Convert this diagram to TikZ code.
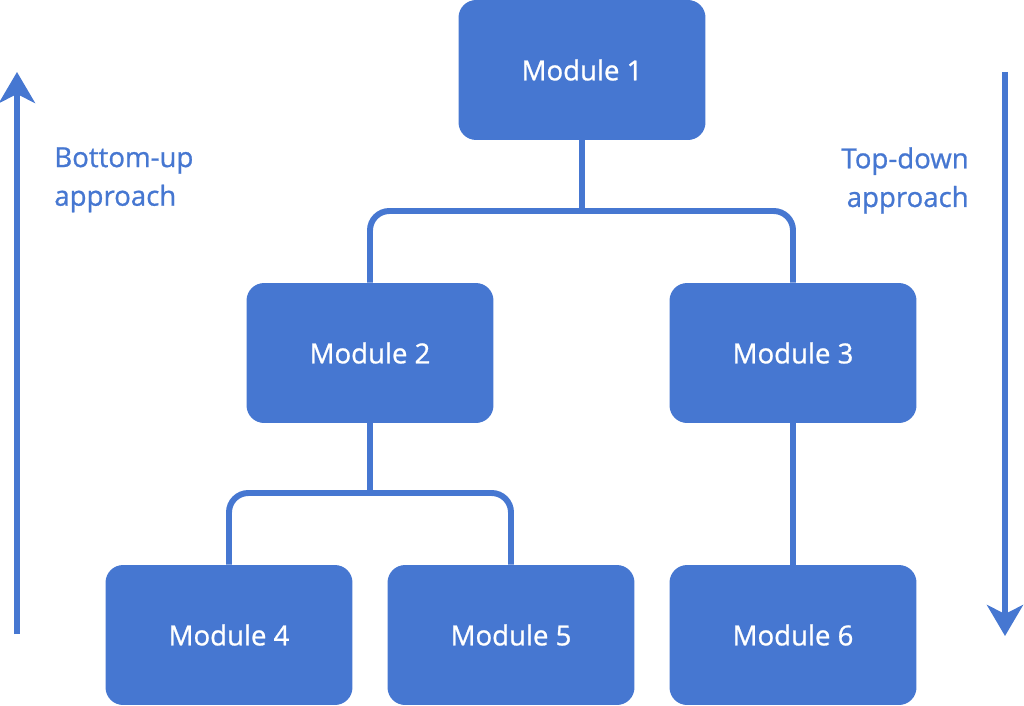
\documentclass[tikz,border=0pt]{standalone}
\usepackage{fontspec}
\setmainfont{Open Sans}[FakeBold=0.9]
\usetikzlibrary{arrows.meta, positioning}
\definecolor{modblue}{HTML}{4677D1}

\begin{document}
\begin{tikzpicture}[x=0.02cm, y=-0.02cm,
    every node/.style={font=\fontsize{15.7}{22}\selectfont},
    module/.style={draw=none, fill=modblue, text=white, rounded corners=10pt,
                   minimum width=4.94cm, minimum height=2.8cm},
    conn/.style={draw=modblue, line width=3.4pt, rounded corners=11pt},
    arr/.style={-{Stealth[length=0.62cm, width=0.72cm, inset=0.18cm]}, draw=modblue, line width=3.4pt},
    lbl/.style={text=modblue}]
    \useasboundingbox (0,0) rectangle (1024,706);
    \node[module] (m1) at (582,70)  {Module 1};
    \node[module] (m2) at (370,353) {Module 2};
    \node[module] (m3) at (793,353) {Module 3};
    \node[module] (m4) at (229,635) {Module 4};
    \node[module] (m5) at (511,635) {Module 5};
    \node[module] (m6) at (793,635) {Module 6};
    \coordinate (bus1) at (582,211);
    \coordinate (bus2) at (370,493);
    \draw[conn] (m1.south) -- (bus1);
    \draw[conn] (m2.north) |- (bus1) -| (m3.north);
    \draw[conn] (m2.south) -- (bus2);
    \draw[conn] (m4.north) |- (bus2) -| (m5.north);
    \draw[conn] (m3.south) -- (m6.north);
    % side arrows
    \coordinate (up0) at (17,634);
    \coordinate (up1) at (17,72);
    \coordinate (dn0) at (1005,72);
    \coordinate (dn1) at (1005,636);
    \draw[arr] (up0) -- (up1);
    \draw[arr] (dn0) -- (dn1);
    \node[lbl, align=left, anchor=north west, inner sep=0pt] (bu) at (54,147) {Bottom-up\\approach};
    \node[lbl, align=right, anchor=north east, inner sep=0pt] (td) at (969,147) {Top-down\\approach};
\end{tikzpicture}
\end{document}
